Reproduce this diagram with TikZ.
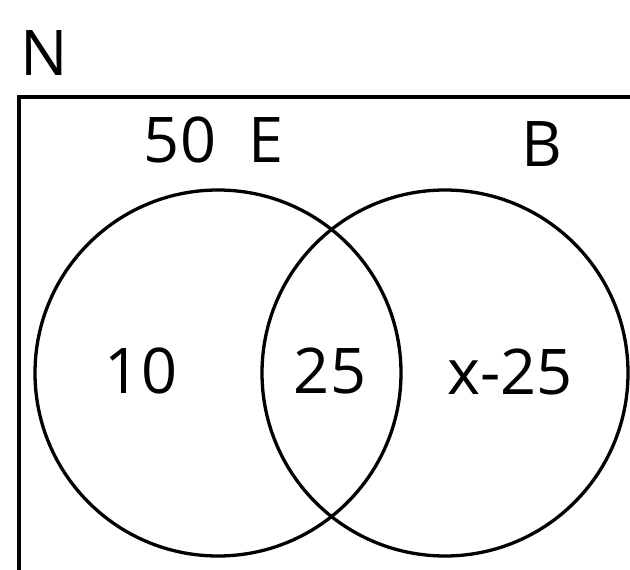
\documentclass[tikz,border=0pt]{standalone}
\usepackage{fontspec}
\setmainfont{Open Sans}
\begin{document}
\begin{tikzpicture}[x=1bp,y=-1bp,
  lbl/.style={inner sep=0pt,font=\fontsize{63bp}{70bp}\selectfont},
  setline/.style={line width=3.3bp,black}]
\useasboundingbox (0,0) rectangle (630,570);
\clip (0,0) rectangle (630,570);
\coordinate (bl) at (19,640);
\coordinate (tl) at (19,97);
\coordinate (tr) at (680,97);
\draw[setline] (bl) -- (tl) -- (tr);
\node[setline,draw,circle,minimum size=366bp,inner sep=0pt] (E) at (218,373) {};
\node[setline,draw,circle,minimum size=366bp,inner sep=0pt] (B) at (445,373) {};
\node[lbl] (n) at (44,53) {N};
\node[lbl] (fifty) at (180,140) {50};
\node[lbl] (elbl) at (266,140) {E};
\node[lbl] (blbl) at (542,144) {B};
\node[lbl] (ten) at (141,371) {10};
\node[lbl] (both) at (330,371) {25};
\node[lbl] (bonly) at (510,372) {x-25};
\end{tikzpicture}
\end{document}
